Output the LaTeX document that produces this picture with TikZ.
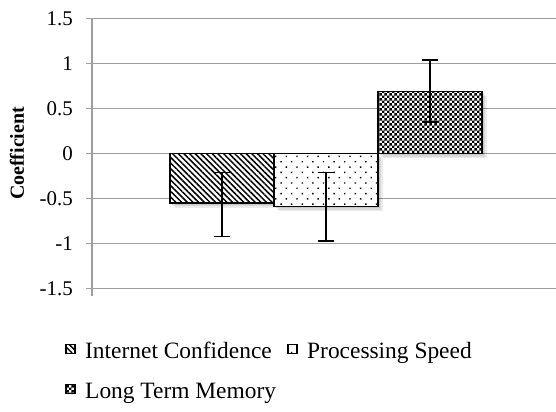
\documentclass[tikz,border=0pt]{standalone}
\usepackage{fontspec}
\setmainfont{Liberation Serif}
\usetikzlibrary{patterns,patterns.meta}
\pgfdeclarepatternformonly{finecheck}{\pgfpointorigin}{\pgfqpoint{5.4bp}{5.4bp}}{\pgfqpoint{5.4bp}{5.4bp}}{
  \pgfpathrectangle{\pgfpointorigin}{\pgfqpoint{2.7bp}{2.7bp}}
  \pgfpathrectangle{\pgfqpoint{2.7bp}{2.7bp}}{\pgfqpoint{2.7bp}{2.7bp}}
  \pgfusepath{fill}
}
\tikzset{
  gridline/.style={draw=black!38, line width=1.3bp},
  bar/.style={draw=black, line width=1.5bp, preaction={fill=white}},
  barshadow/.style={fill=black, fill opacity=0.08},
  errbar/.style={draw=black, line width=1.4bp},
  ticklabel/.style={anchor=east, inner sep=0pt, font=\fontsize{21}{24}\selectfont},
  legicon/.style={draw=black, line width=1.2bp, minimum size=9bp, inner sep=0pt},
  legtext/.style={anchor=base west, inner sep=0pt, font=\fontsize{23.5}{26}\selectfont},
  inetconf/.style={pattern={Lines[angle=-45,distance=4bp,line width=1.5bp]}},
  procspeed/.style={pattern={Dots[angle=45,distance=7.5bp,radius=1bp]}},
  longmem/.style={pattern=finecheck},
}

\begin{document}
\begin{tikzpicture}[x=1bp,y=1bp]
  \useasboundingbox (0,0) rectangle (556,411);
  \begin{scope}[shift={(0,257.5)}, y=90bp]
    % grid, axis and labels
    \foreach \v [count=\i] in {-1.5,-1,-0.5,0,0.5,1,1.5} {
      \draw[gridline] (86,\v) -- (556,\v);
      \node[ticklabel] (tick\i) at (73,\v) {\v};
    }
    \draw[gridline] (92,1.5) -- (92,-1.58);
    \node[rotate=90, inner sep=0pt, font=\bfseries\fontsize{20}{22}\selectfont] (ylabel) at (17,0) {Coefficient};

    % bars with soft shadow
    \foreach \x/\v/\sty in {170/-0.55/inetconf, 274/-0.59/procspeed, 378/0.69/longmem} {
      \foreach \s in {1.5,3,4.5}
        \fill[barshadow, xshift=\s bp, yshift=-\s bp] (\x,0) rectangle ++(104,\v);
      \draw[bar, \sty] (\x,0) rectangle ++(104,\v);
    }

    % error bars
    \foreach \x/\lo/\hi in {222/-0.92/-0.21, 326/-0.97/-0.21, 430/0.35/1.04} {
      \draw[errbar] (\x,\lo) -- (\x,\hi);
      \draw[errbar] (\x-8,\lo) -- (\x+8,\lo);
      \draw[errbar] (\x-8,\hi) -- (\x+8,\hi);
    }
  \end{scope}

  % legend
  \node[legicon, inetconf] (iconIC) at (70.5,62) {};
  \node[legtext] (textIC) at (85,53) {Internet Confidence};
  \node[legicon, procspeed] (iconPS) at (292.5,62) {};
  \node[legtext] (textPS) at (307,53) {Processing Speed};
  \node[legicon, longmem] (iconLTM) at (70.5,22) {};
  \node[legtext] (textLTM) at (85,13) {Long Term Memory};
\end{tikzpicture}
\end{document}
